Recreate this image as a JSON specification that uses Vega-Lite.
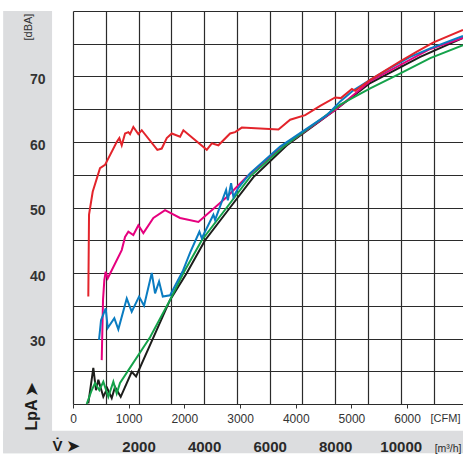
{
  "$schema": "https://vega.github.io/schema/vega-lite/v6.json",
  "width": 390,
  "height": 393,
  "autosize": {"type": "none"},
  "padding": {"left": 73, "top": 11, "right": 0, "bottom": 51},
  "background": "white",
  "config": {"view": {"stroke": null}, "font": "Liberation Sans"},
  "datasets": {
    "curves": [
      {"curve": "black", "flow": 467, "lpa": 20.1}, {"curve": "black", "flow": 620, "lpa": 25.5}, {"curve": "black", "flow": 702, "lpa": 22.1}, {"curve": "black", "flow": 773, "lpa": 23.7}, {"curve": "black", "flow": 925, "lpa": 21.1}, {"curve": "black", "flow": 1047, "lpa": 22.4}, {"curve": "black", "flow": 1182, "lpa": 20.9}, {"curve": "black", "flow": 1282, "lpa": 22.6}, {"curve": "black", "flow": 1456, "lpa": 21.1}, {"curve": "black", "flow": 1792, "lpa": 24.9}, {"curve": "black", "flow": 1924, "lpa": 24.2}, {"curve": "black", "flow": 2962, "lpa": 35.9}, {"curve": "black", "flow": 3472, "lpa": 40.0}, {"curve": "black", "flow": 4030, "lpa": 45.0}, {"curve": "black", "flow": 4794, "lpa": 50.0}, {"curve": "black", "flow": 5500, "lpa": 54.6}, {"curve": "black", "flow": 6550, "lpa": 59.6}, {"curve": "black", "flow": 8031, "lpa": 65.0}, {"curve": "black", "flow": 9068, "lpa": 69.0}, {"curve": "black", "flow": 10595, "lpa": 73.0}, {"curve": "black", "flow": 11900, "lpa": 75.9},
      {"curve": "magenta", "flow": 876, "lpa": 26.7}, {"curve": "magenta", "flow": 916, "lpa": 35.9}, {"curve": "magenta", "flow": 956, "lpa": 38.9}, {"curve": "magenta", "flow": 998, "lpa": 40.2}, {"curve": "magenta", "flow": 1060, "lpa": 39.2}, {"curve": "magenta", "flow": 1487, "lpa": 43.5}, {"curve": "magenta", "flow": 1588, "lpa": 45.5}, {"curve": "magenta", "flow": 1689, "lpa": 46.3}, {"curve": "magenta", "flow": 1841, "lpa": 45.8}, {"curve": "magenta", "flow": 1994, "lpa": 47.3}, {"curve": "magenta", "flow": 2147, "lpa": 46.1}, {"curve": "magenta", "flow": 2452, "lpa": 48.4}, {"curve": "magenta", "flow": 2809, "lpa": 49.6}, {"curve": "magenta", "flow": 3267, "lpa": 48.4}, {"curve": "magenta", "flow": 3826, "lpa": 47.8}, {"curve": "magenta", "flow": 4693, "lpa": 51.6}, {"curve": "magenta", "flow": 5304, "lpa": 54.7}, {"curve": "magenta", "flow": 6269, "lpa": 58.8}, {"curve": "magenta", "flow": 8031, "lpa": 65.0}, {"curve": "magenta", "flow": 9068, "lpa": 69.3}, {"curve": "magenta", "flow": 10900, "lpa": 74.2}, {"curve": "magenta", "flow": 11900, "lpa": 75.9},
      {"curve": "green", "flow": 418, "lpa": 20.0}, {"curve": "green", "flow": 571, "lpa": 22.1}, {"curve": "green", "flow": 672, "lpa": 23.2}, {"curve": "green", "flow": 803, "lpa": 22.1}, {"curve": "green", "flow": 925, "lpa": 23.4}, {"curve": "green", "flow": 1078, "lpa": 21.1}, {"curve": "green", "flow": 1231, "lpa": 23.4}, {"curve": "green", "flow": 1334, "lpa": 21.6}, {"curve": "green", "flow": 1435, "lpa": 23.2}, {"curve": "green", "flow": 2351, "lpa": 30.2}, {"curve": "green", "flow": 2962, "lpa": 35.9}, {"curve": "green", "flow": 3368, "lpa": 40.0}, {"curve": "green", "flow": 3930, "lpa": 45.0}, {"curve": "green", "flow": 4693, "lpa": 50.0}, {"curve": "green", "flow": 5420, "lpa": 54.8}, {"curve": "green", "flow": 6400, "lpa": 59.2}, {"curve": "green", "flow": 7542, "lpa": 63.4}, {"curve": "green", "flow": 8152, "lpa": 65.7}, {"curve": "green", "flow": 9068, "lpa": 68.2}, {"curve": "green", "flow": 9884, "lpa": 70.2}, {"curve": "green", "flow": 10900, "lpa": 72.8}, {"curve": "green", "flow": 11900, "lpa": 74.8},
      {"curve": "blue", "flow": 794, "lpa": 29.8}, {"curve": "blue", "flow": 855, "lpa": 32.8}, {"curve": "blue", "flow": 998, "lpa": 34.6}, {"curve": "blue", "flow": 1060, "lpa": 31.6}, {"curve": "blue", "flow": 1261, "lpa": 33.1}, {"curve": "blue", "flow": 1383, "lpa": 31.4}, {"curve": "blue", "flow": 1640, "lpa": 36.1}, {"curve": "blue", "flow": 1792, "lpa": 34.1}, {"curve": "blue", "flow": 2015, "lpa": 36.4}, {"curve": "blue", "flow": 2168, "lpa": 35.0}, {"curve": "blue", "flow": 2403, "lpa": 40.0}, {"curve": "blue", "flow": 2504, "lpa": 36.9}, {"curve": "blue", "flow": 2626, "lpa": 38.7}, {"curve": "blue", "flow": 2739, "lpa": 36.4}, {"curve": "blue", "flow": 2962, "lpa": 36.6}, {"curve": "blue", "flow": 3359, "lpa": 40.4}, {"curve": "blue", "flow": 3573, "lpa": 43.1}, {"curve": "blue", "flow": 3857, "lpa": 46.3}, {"curve": "blue", "flow": 3930, "lpa": 45.3}, {"curve": "blue", "flow": 4284, "lpa": 48.9}, {"curve": "blue", "flow": 4336, "lpa": 48.1}, {"curve": "blue", "flow": 4672, "lpa": 52.7}, {"curve": "blue", "flow": 4724, "lpa": 51.1}, {"curve": "blue", "flow": 4824, "lpa": 53.7}, {"curve": "blue", "flow": 4895, "lpa": 51.6}, {"curve": "blue", "flow": 5047, "lpa": 53.0}, {"curve": "blue", "flow": 5400, "lpa": 55.2}, {"curve": "blue", "flow": 6320, "lpa": 59.3}, {"curve": "blue", "flow": 7746, "lpa": 64.1}, {"curve": "blue", "flow": 8152, "lpa": 66.2}, {"curve": "blue", "flow": 8558, "lpa": 67.9}, {"curve": "blue", "flow": 9068, "lpa": 69.5}, {"curve": "blue", "flow": 9578, "lpa": 71.0}, {"curve": "blue", "flow": 10290, "lpa": 73.0}, {"curve": "blue", "flow": 10900, "lpa": 74.3}, {"curve": "blue", "flow": 11900, "lpa": 76.2},
      {"curve": "red", "flow": 467, "lpa": 36.4}, {"curve": "red", "flow": 489, "lpa": 48.9}, {"curve": "red", "flow": 601, "lpa": 52.4}, {"curve": "red", "flow": 824, "lpa": 56.0}, {"curve": "red", "flow": 977, "lpa": 56.5}, {"curve": "red", "flow": 1334, "lpa": 60.0}, {"curve": "red", "flow": 1414, "lpa": 60.6}, {"curve": "red", "flow": 1487, "lpa": 59.5}, {"curve": "red", "flow": 1588, "lpa": 61.3}, {"curve": "red", "flow": 1689, "lpa": 61.5}, {"curve": "red", "flow": 1740, "lpa": 61.2}, {"curve": "red", "flow": 1841, "lpa": 62.3}, {"curve": "red", "flow": 1994, "lpa": 61.2}, {"curve": "red", "flow": 2098, "lpa": 61.8}, {"curve": "red", "flow": 2574, "lpa": 58.8}, {"curve": "red", "flow": 2708, "lpa": 59.0}, {"curve": "red", "flow": 2861, "lpa": 60.6}, {"curve": "red", "flow": 3014, "lpa": 61.3}, {"curve": "red", "flow": 3267, "lpa": 60.8}, {"curve": "red", "flow": 3368, "lpa": 61.8}, {"curve": "red", "flow": 4082, "lpa": 58.8}, {"curve": "red", "flow": 4235, "lpa": 59.8}, {"curve": "red", "flow": 4437, "lpa": 59.5}, {"curve": "red", "flow": 4794, "lpa": 61.3}, {"curve": "red", "flow": 4947, "lpa": 61.5}, {"curve": "red", "flow": 5151, "lpa": 62.2}, {"curve": "red", "flow": 6269, "lpa": 61.9}, {"curve": "red", "flow": 6626, "lpa": 63.4}, {"curve": "red", "flow": 7084, "lpa": 64.1}, {"curve": "red", "flow": 7542, "lpa": 65.5}, {"curve": "red", "flow": 8000, "lpa": 66.8}, {"curve": "red", "flow": 8174, "lpa": 66.7}, {"curve": "red", "flow": 8510, "lpa": 68.1}, {"curve": "red", "flow": 8610, "lpa": 67.8}, {"curve": "red", "flow": 9068, "lpa": 69.5}, {"curve": "red", "flow": 9984, "lpa": 72.3}, {"curve": "red", "flow": 10494, "lpa": 73.8}, {"curve": "red", "flow": 11001, "lpa": 75.2}, {"curve": "red", "flow": 11900, "lpa": 77.1}
    ],
    "one": [{}]
  },
  "layer": [
    {
      "layer": [
        {
          "data": {"name": "one"},
          "mark": {"type": "rect", "color": "#dcdddf"},
          "encoding": {
            "x": {"datum": -2131, "type": "quantitative", "scale": {"domain": [0, 11900], "nice": false, "zero": false}, "axis": null},
            "x2": {"datum": -639},
            "y": {"datum": 12.5, "type": "quantitative", "scale": {"domain": [20, 80], "nice": false, "zero": false}, "axis": null},
            "y2": {"datum": 80}
          }
        },
        {
          "data": {"name": "one"},
          "mark": {"type": "rect", "color": "#dcdddf"},
          "encoding": {
            "x": {"datum": -2131, "type": "quantitative", "axis": null},
            "x2": {"datum": 12200},
            "y": {"datum": 12.5, "type": "quantitative", "axis": null},
            "y2": {"datum": 15.9}
          }
        },
        {
          "data": {"name": "curves"},
          "mark": {"type": "line", "strokeWidth": 2},
          "encoding": {
            "x": {"field": "flow", "type": "quantitative",
              "axis": {"orient": "bottom", "grid": true, "values": [0, 1000, 2000, 3000, 4000, 5000, 6000, 7000, 8000, 9000, 10000, 11000], "labels": false, "ticks": false, "domain": false, "title": null, "gridColor": "#2b2b2b", "gridWidth": 1.2, "gridOpacity": 1}},
            "y": {"field": "lpa", "type": "quantitative",
              "axis": {"orient": "left", "grid": true, "values": [20, 25, 30, 35, 40, 45, 50, 55, 60, 65, 70, 75, 80], "labels": false, "ticks": false, "domain": false, "title": null, "gridColor": "#2b2b2b", "gridWidth": 1.2, "gridOpacity": 1}},
            "color": {"field": "curve", "type": "nominal", "legend": null,
              "scale": {"domain": ["black", "magenta", "green", "blue", "red"], "range": ["#1d1d1b", "#e6007e", "#14a24a", "#0a7cc1", "#e3242b"]}}
          }
        },
        {
          "data": {"name": "one"},
          "mark": {"type": "point", "opacity": 0},
          "encoding": {
            "x": {"datum": 0, "type": "quantitative",
              "axis": {"orient": "bottom", "grid": false, "ticks": false, "domain": false, "zindex": 1,
                "values": [2000, 4000, 6000, 8000, 10000, 11430], "format": "d",
                "labelExpr": "datum.value > 11000 ? '[m³/h]' : datum.label",
                "labelFontSize": {"condition": {"test": "datum.value > 11000", "value": 10.5}, "value": 15},
                "labelFontWeight": {"condition": {"test": "datum.value > 11000", "value": "normal"}, "value": "bold"},
                "labelColor": "#2a2a2a", "labelBaseline": "alphabetic", "labelPadding": 47, "labelOverlap": false, "labelFlush": false,
                "title": "V̇  ➤", "titleX": -21, "titleY": 46, "titleAlign": "left", "titleBaseline": "alphabetic", "titleFontSize": 15, "titleFontWeight": "bold", "titleColor": "#1d1d1b"}},
            "y": {"datum": 20, "type": "quantitative",
              "axis": {"orient": "left", "grid": false, "ticks": false, "domain": false, "zindex": 1,
                "values": [30, 40, 50, 60, 70],
                "labelFontSize": 14, "labelFontWeight": "bold", "labelColor": "#333333", "labelPadding": 28, "labelBaseline": "alphabetic", "labelOffset": 7, "labelOverlap": false,
                "title": "[dBA]", "titleX": -42, "titleY": 29, "titleAngle": -90, "titleAlign": "left", "titleBaseline": "alphabetic", "titleFontSize": 11, "titleFontWeight": "normal", "titleColor": "#333333"}}
          }
        },
        {
          "data": {"name": "one"},
          "mark": {"type": "point", "opacity": 0},
          "encoding": {
            "y": {"datum": 20, "type": "quantitative",
              "axis": {"orient": "left", "grid": false, "ticks": false, "domain": false, "labels": false, "zindex": 1,
                "title": "LpA ➤", "titleX": -37, "titleY": 419, "titleAngle": -90, "titleAlign": "left", "titleBaseline": "alphabetic", "titleFontSize": 16, "titleFontWeight": "bold", "titleColor": "#1d1d1b"}}
          }
        }
      ],
      "resolve": {"axis": {"x": "independent", "y": "independent"}}
    },
    {
      "data": {"name": "one"},
      "mark": {"type": "rule", "opacity": 0},
      "encoding": {
        "x": {"datum": 0, "type": "quantitative", "scale": {"domain": [0, 7004], "nice": false, "zero": false},
          "axis": {"orient": "bottom", "values": [0, 1000, 2000, 3000, 4000, 5000, 6000], "format": "d", "grid": false, "domain": false,
            "ticks": true, "tickSize": 4, "tickColor": "#333333", "tickWidth": 1, "zindex": 1,
            "labelPadding": 14, "labelBaseline": "alphabetic", "labelFontSize": 12, "labelColor": "#333333", "labelFlush": false, "labelOverlap": false,
            "title": "[CFM]", "titleX": 387, "titleY": 17, "titleAlign": "right", "titleBaseline": "alphabetic", "titleFontSize": 11, "titleFontWeight": "normal", "titleColor": "#333333"}}
      }
    }
  ],
  "resolve": {"scale": {"x": "independent"}, "axis": {"x": "independent"}}
}
